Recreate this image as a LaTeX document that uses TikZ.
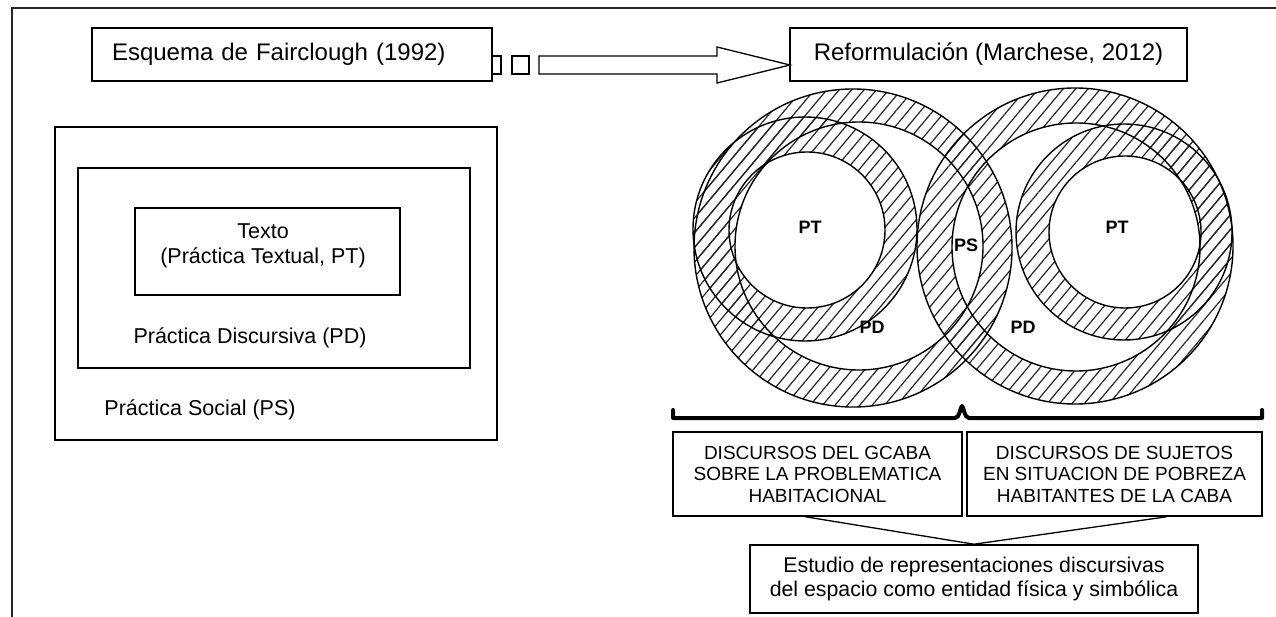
\documentclass[tikz,border=0pt]{standalone}
\usepackage{fontspec}
\setmainfont{Liberation Sans}
\usetikzlibrary{patterns.meta}
\begin{document}
\begin{tikzpicture}[x=1pt,y=-1pt,
  box/.style={draw=black, line width=1.6pt, inner sep=0pt, align=center},
  txt/.style={inner sep=0pt, align=center},
  hatch/.style={pattern={Lines[angle=50,distance=9.5pt,line width=1.2pt]}, pattern color=black!85, even odd rule},
  ring/.style={draw=black, line width=1.4pt},
  lbl/.style={font=\fontsize{18}{20}\selectfont\bfseries, inner sep=0pt},
  conn/.style={draw=black, line width=1.3pt},
  big/.style={font=\fontsize{24}{28}\selectfont},
  mid/.style={font=\fontsize{21.5}{25}\selectfont},
  small/.style={font=\fontsize{19}{21.5}\selectfont}]
\useasboundingbox (0,0) rectangle (1276,617);
\fill[white] (0,0) rectangle (1276,617);
% page frame (cropped)
\draw[line width=1.5pt, black!85] (1276,8) -- (12,8) -- (12,617);

% title boxes
\node[box, big, minimum width=400pt, minimum height=53pt, text width=360pt, inner xsep=20pt, align=left] (esq) at (292,54.5) {Esquema de Fairclough (1992)};
\node[box, big, minimum width=397pt, minimum height=53pt] (ref) at (988.5,54.5) {Reformulación (Marchese, 2012)};

% dashed block arrow
\draw[line width=1.3pt] (492,56) -- (501,56) -- (501,74) -- (492,74);
\draw[line width=1.3pt] (512,56) rectangle (529,74);
\draw[line width=1.3pt, line join=miter] (539,56) -- (717,56) -- (717,47) -- (790,65) -- (717,83) -- (717,74) -- (539,74) -- cycle;

% Fairclough nested boxes
\node[box, minimum width=442pt, minimum height=313pt] (psbox) at (276,283.5) {};
\node[box, minimum width=392pt, minimum height=200pt] (pdbox) at (274,268) {};
\node[box, minimum width=265pt, minimum height=87pt] (ptbox) at (267.5,251.5) {};
\node[txt, mid] (pttext) at (263,245.5) {Texto\\(Práctica Textual, PT)};
\node[txt, mid] (pdtext) at (250,338) {Práctica Discursiva (PD)};
\node[txt, mid] (pstext) at (200,410) {Práctica Social (PS)};

% hatched rings
\fill[hatch] (853,248) circle[radius=159pt] (859,246) circle[radius=124pt];
\fill[hatch] (805,229) circle[radius=112pt] (807,230) circle[radius=78pt];
\fill[hatch] (1075,246) circle[radius=158pt] (1076,247) circle[radius=124pt];
\fill[hatch] (1124,232) circle[radius=108pt] (1125,232) circle[radius=76pt];
\draw[ring] (853,248) circle[radius=159pt];
\draw[ring] (859,246) circle[radius=124pt];
\draw[ring] (805,229) circle[radius=112pt];
\draw[ring] (807,230) circle[radius=78pt];
\draw[ring] (1075,246) circle[radius=158pt];
\draw[ring] (1076,247) circle[radius=124pt];
\draw[ring] (1124,232) circle[radius=108pt];
\draw[ring] (1125,232) circle[radius=76pt];
\node[lbl] (lpt) at (810,227) {PT};
\node[lbl] (lpd) at (872,327) {PD};
\node[lbl] (cps) at (966,245) {PS};
\node[lbl] (rpd) at (1023,327) {PD};
\node[lbl] (rpt) at (1117,227) {PT};

% brace
\draw[line width=4pt, line join=round, line cap=round] (673,410) -- (673,418) -- (955,418) .. controls (960,418) and (960,407) .. (962,406) .. controls (964,407) and (964,418) .. (969,418) -- (1262,418) -- (1262,410);

% lower boxes
\node[box, small, minimum width=289pt, minimum height=84pt] (gcaba) at (817.5,474) {DISCURSOS DEL GCABA\\SOBRE LA PROBLEMATICA\\HABITACIONAL};
\node[box, small, minimum width=295pt, minimum height=84pt] (sujetos) at (1114.5,474) {DISCURSOS DE SUJETOS\\EN SITUACION DE POBREZA\\HABITANTES DE LA CABA};
\node[box, minimum width=448pt, minimum height=68pt, font=\fontsize{21.3}{24}\selectfont] (estudio) at (974,579) {Estudio de representaciones discursivas\\del espacio como entidad física y simbólica};
\draw[conn] ([xshift=-12pt]gcaba.south) -- (estudio.north);
\draw[conn] ([xshift=52pt]sujetos.south) -- (estudio.north);
\end{tikzpicture}
\end{document}
